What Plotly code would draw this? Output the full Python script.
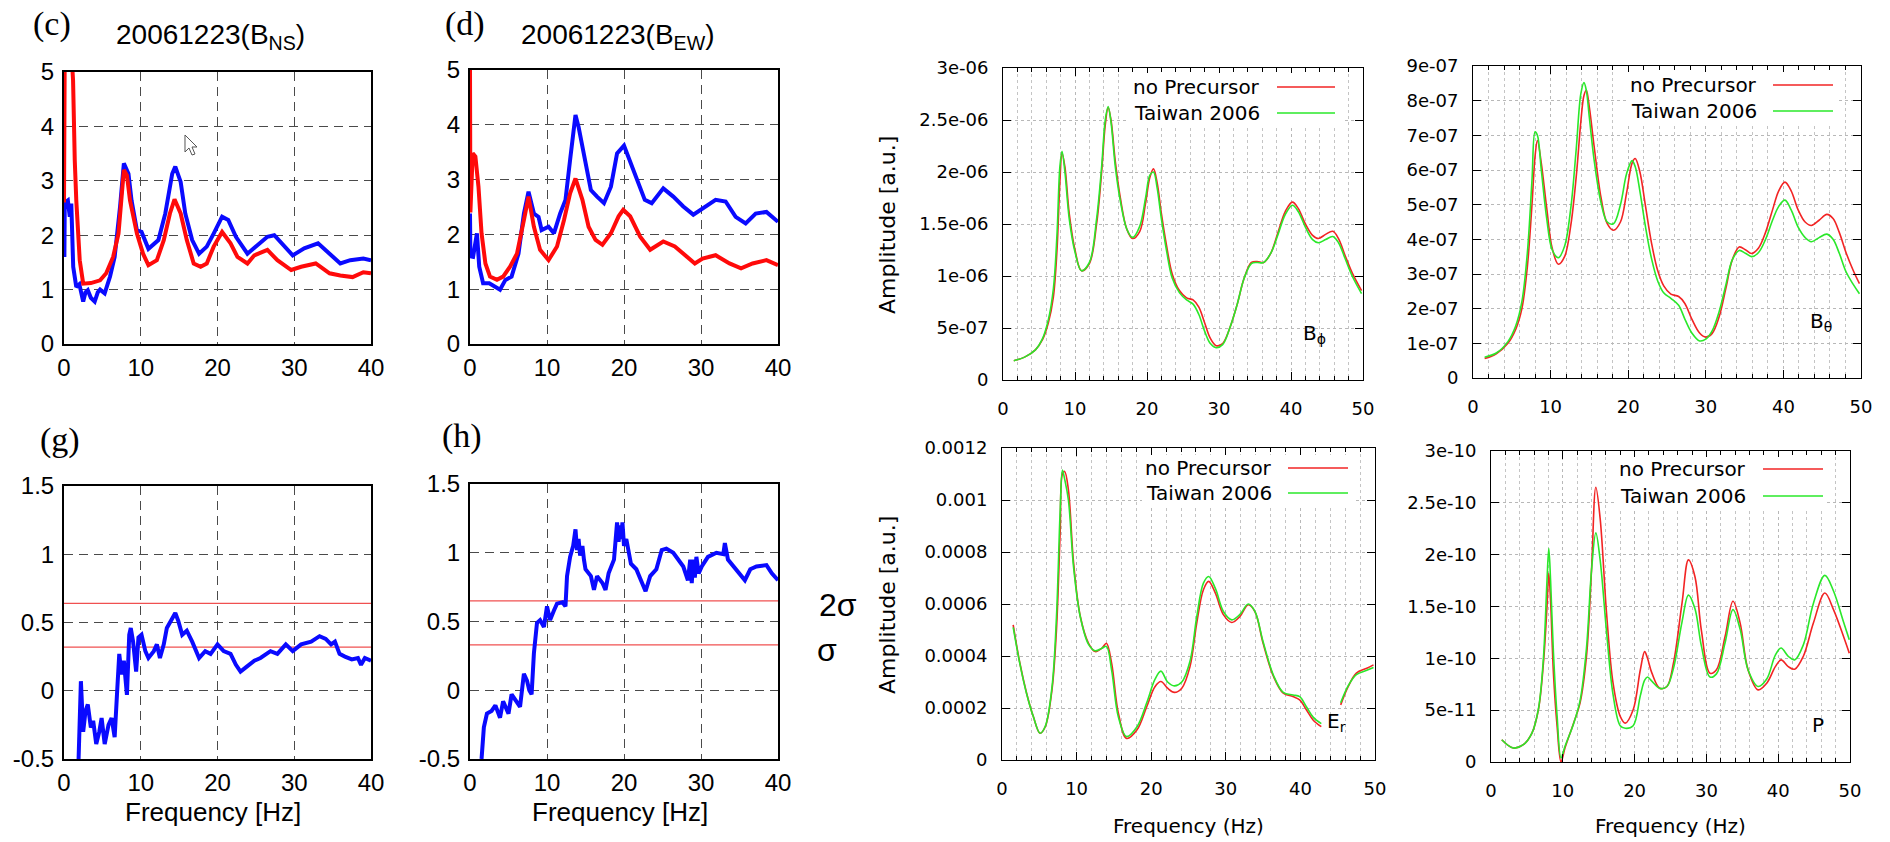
import plotly.graph_objects as go

W, H = 1890, 842

# ---------------- (c) 20061223 B_NS ----------------
c_red_f = [0, 0.1, 0.9, 1.18, 1.4, 1.6, 2.05, 2.5, 3.5, 4.7, 5.5, 6.4, 7.1, 7.5, 7.8, 8.2, 8.6, 9.5, 10.3, 11.0,
           12.1, 13.0, 13.8, 14.4, 15.2, 16.0, 16.9, 17.8, 18.6, 19.5, 20.6, 21.7, 22.6, 23.9, 24.8, 26.5, 27.8,
           29.6, 30.9, 32.8, 34.6, 36.0, 37.6, 39.0, 40.0]
c_red_v = [2.6, 5.5, 5.5, 4.85, 3.38, 2.64, 1.54, 1.11, 1.12, 1.17, 1.3, 1.6, 2.03, 2.8, 3.2, 3.1, 2.64, 2.03, 1.66,
           1.45, 1.54, 1.91, 2.4, 2.66, 2.4, 1.91, 1.48, 1.42, 1.48, 1.79, 2.06, 1.85, 1.6, 1.48, 1.63, 1.73, 1.54,
           1.36, 1.42, 1.48, 1.3, 1.26, 1.23, 1.32, 1.3]
c_blue_f = [0.05, 0.1, 0.5, 0.75, 0.95, 1.2, 1.6, 2.0, 2.5, 2.8, 3.1, 3.5, 4.0, 4.4, 4.7, 5.3, 6.0, 6.6, 7.3, 7.8,
            8.4, 8.8, 9.5, 10.1, 11.0, 12.3, 13.2, 14.1, 14.5, 15.2, 15.8, 16.7, 17.6, 18.6, 19.5, 20.6, 21.4,
            22.4, 23.9, 25.2, 26.5, 27.4, 28.7, 29.8, 31.3, 33.1, 34.6, 36.0, 37.3, 39.0, 40.0]
c_blue_v = [1.6, 2.6, 2.64, 2.34, 2.58, 1.42, 1.05, 1.1, 0.78, 0.95, 0.99, 0.85, 0.78, 0.95, 1.0, 0.93, 1.24, 1.6,
            2.52, 3.32, 3.13, 2.64, 2.09, 2.06, 1.75, 1.91, 2.4, 3.13, 3.26, 2.98, 2.4, 1.91, 1.66, 1.79, 2.03,
            2.34, 2.28, 1.97, 1.66, 1.82, 1.97, 2.0, 1.79, 1.63, 1.76, 1.85, 1.66, 1.48, 1.54, 1.57, 1.54]

# ---------------- (d) 20061223 B_EW ----------------
d_red_f = [0, 0.05, 0.35, 0.7, 1.1, 1.5, 2.0, 2.6, 3.5, 4.3, 5.2, 6.1, 7.0, 7.6, 8.3, 9.1, 10.2, 11.3, 12.2, 13.0,
           13.7, 14.6, 15.4, 16.3, 17.2, 18.3, 19.3, 19.9, 20.8, 22.1, 23.4, 25.1, 26.6, 28.1, 29.2, 30.2, 31.9,
           33.7, 35.2, 36.7, 38.5, 40.0]
d_red_v = [5.0, 2.4, 3.48, 3.42, 2.87, 2.02, 1.47, 1.23, 1.17, 1.23, 1.41, 1.65, 2.26, 2.69, 2.14, 1.72, 1.53,
           1.78, 2.26, 2.75, 3.02, 2.63, 2.14, 1.9, 1.81, 2.02, 2.33, 2.45, 2.33, 1.96, 1.72, 1.87, 1.78, 1.6,
           1.47, 1.56, 1.62, 1.47, 1.38, 1.47, 1.53, 1.44]
d_blue_f = [0, 0.05, 0.4, 0.9, 1.2, 1.7, 2.5, 3.3, 3.9, 4.6, 5.4, 6.3, 7.0, 7.6, 8.3, 8.9, 9.3, 10.2, 10.9, 11.7,
            12.4, 13.0, 13.7, 14.1, 14.8, 15.7, 16.5, 17.4, 18.3, 19.1, 20.0, 21.0, 22.1, 22.7, 23.6, 25.1, 26.4,
            27.7, 29.0, 30.2, 31.9, 33.2, 34.5, 35.8, 37.1, 38.5, 40.0]
d_blue_v = [2.38, 1.6, 1.59, 2.02, 1.41, 1.11, 1.11, 1.05, 0.99, 1.17, 1.23, 1.65, 2.38, 2.78, 2.38, 2.32, 2.08,
            2.14, 2.02, 2.38, 2.63, 3.36, 4.18, 3.96, 3.48, 2.81, 2.69, 2.57, 2.87, 3.48, 3.62, 3.24, 2.81, 2.63,
            2.57, 2.84, 2.69, 2.51, 2.36, 2.48, 2.63, 2.6, 2.32, 2.2, 2.38, 2.41, 2.23]

# ---------------- (g) / (h) normalised differences ----------------
g_f = [1.9, 2.2, 2.5, 2.8, 3.1, 3.5, 3.8, 4.2, 4.6, 4.9, 5.3, 5.8, 6.2, 6.6, 6.9, 7.2, 7.5, 7.8, 8.2, 8.5, 8.7,
       9.0, 9.4, 9.7, 10.1, 10.6, 11.0, 11.7, 12.1, 12.5, 13.0, 13.4, 14.1, 14.5, 14.9, 15.4, 16.0, 16.7, 17.6,
       18.4, 19.1, 20.0, 20.8, 21.7, 22.4, 23.0, 23.9, 24.8, 25.6, 26.9, 27.8, 28.9, 29.8, 30.9, 32.2, 33.3,
       34.1, 34.8, 35.3, 35.9, 36.6, 37.5, 38.3, 38.7, 39.2, 40.0]
g_v = [-0.5, 0.07, -0.3, -0.15, -0.1, -0.27, -0.22, -0.39, -0.3, -0.2, -0.39, -0.25, -0.2, -0.34, -0.03, 0.27,
       0.12, 0.22, -0.03, 0.41, 0.46, 0.36, 0.14, 0.39, 0.41, 0.29, 0.24, 0.29, 0.34, 0.24, 0.34, 0.46, 0.53,
       0.57, 0.51, 0.41, 0.44, 0.36, 0.24, 0.29, 0.27, 0.34, 0.29, 0.27, 0.19, 0.14, 0.18, 0.22, 0.24, 0.29,
       0.27, 0.34, 0.29, 0.34, 0.36, 0.4, 0.38, 0.34, 0.36, 0.27, 0.25, 0.23, 0.24, 0.19, 0.24, 0.22]
g_sigma = [0.32, 0.64]      # sigma, 2 sigma

h_f = [1.5, 1.8, 2.2, 2.8, 3.3, 3.9, 4.3, 5.0, 5.4, 6.1, 6.5, 7.0, 7.4, 7.7, 8.0, 8.3, 8.7, 9.1, 9.6, 10.0, 10.4,
       10.9, 11.3, 12.0, 12.4, 12.6, 13.0, 13.4, 13.7, 13.9, 14.1, 14.3, 14.6, 14.8, 15.0, 15.7, 16.1, 16.5, 17.2,
       17.6, 18.0, 18.7, 19.1, 19.3, 19.5, 19.6, 19.8, 20.0, 20.3, 20.9, 21.6, 22.2, 22.8, 23.4, 24.2, 24.9, 25.5,
       26.4, 27.0, 27.7, 28.3, 28.6, 28.8, 29.0, 29.2, 29.4, 29.7, 30.1, 30.9, 32.0, 32.9, 33.1, 33.5, 34.2, 35.0,
       35.7, 36.4, 37.2, 38.5, 39.2, 40.0]
h_v = [-0.5, -0.27, -0.17, -0.15, -0.11, -0.2, -0.08, -0.17, -0.03, -0.08, -0.12, 0.12, 0.07, 0.0, -0.03, 0.27,
       0.49, 0.51, 0.46, 0.61, 0.51, 0.58, 0.63, 0.64, 0.61, 0.83, 0.97, 1.05, 1.17, 1.02, 1.1, 0.98, 1.05, 0.95,
       0.88, 0.83, 0.73, 0.83, 0.78, 0.73, 0.85, 0.95, 1.22, 1.08, 1.2, 1.1, 1.22, 1.05, 1.1, 0.92, 0.88, 0.8,
       0.72, 0.83, 0.88, 1.02, 1.03, 1.0, 0.95, 0.9, 0.8, 0.95, 0.78, 0.95, 0.82, 0.97, 0.85, 0.9, 0.97, 1.0,
       0.99, 1.07, 0.95, 0.9, 0.85, 0.8, 0.88, 0.9, 0.91, 0.85, 0.8]
h_sigma = [0.33, 0.65]

# ---------------- model spectra: B_phi (units of 1e-6) ----------------
bphi_f = [1.5, 3.0, 4.5, 5.5, 6.3, 7.0, 7.5, 7.9, 8.2, 8.6, 9.2, 10.0, 10.9, 12.0, 13.0, 13.7, 14.2, 14.6, 15.0,
          15.6, 16.3, 17.2, 18.0, 19.0, 19.8, 20.4, 20.9, 21.4, 22.0, 22.7, 23.5, 24.5, 25.5, 26.4, 27.2, 28.0,
          28.8, 29.6, 30.5, 31.5, 32.5, 33.5, 34.5, 35.3, 36.2, 37.2, 38.2, 39.2, 40.2, 41.0, 42.0, 43.0, 43.8,
          44.8, 45.8, 46.6, 47.5, 48.5, 49.8]
bphi_noprec = [0.186, 0.22, 0.29, 0.39, 0.55, 0.8, 1.25, 1.9, 2.18, 2.05, 1.6, 1.25, 1.05, 1.12, 1.5, 2.0, 2.45,
               2.62, 2.5, 2.1, 1.75, 1.45, 1.36, 1.43, 1.7, 1.95, 2.03, 1.9, 1.6, 1.3, 1.02, 0.86, 0.79, 0.77,
               0.7, 0.55, 0.4, 0.33, 0.35, 0.5, 0.72, 0.98, 1.13, 1.14, 1.13, 1.22, 1.42, 1.62, 1.71, 1.65, 1.5,
               1.39, 1.36, 1.4, 1.43, 1.36, 1.2, 1.03, 0.86]
bphi_taiwan = [0.186, 0.22, 0.29, 0.4, 0.58, 0.88, 1.4, 2.05, 2.2, 2.0, 1.55, 1.23, 1.05, 1.13, 1.55, 2.05, 2.5,
               2.63, 2.48, 2.05, 1.72, 1.45, 1.37, 1.48, 1.75, 1.97, 2.0, 1.85, 1.55, 1.25, 0.98, 0.84, 0.77,
               0.73, 0.63, 0.47, 0.35, 0.31, 0.34, 0.5, 0.72, 0.98, 1.12, 1.13, 1.13, 1.22, 1.4, 1.59, 1.68, 1.62,
               1.47, 1.35, 1.32, 1.35, 1.38, 1.32, 1.17, 1.0, 0.83]

# ---------------- B_theta (units of 1e-7) ----------------
bth_f = [1.5, 3.0, 4.5, 5.5, 6.3, 7.0, 7.6, 8.0, 8.3, 8.8, 9.5, 10.2, 11.0, 11.8, 12.6, 13.3, 13.9, 14.3, 14.6,
         15.0, 15.6, 16.5, 17.3, 18.1, 19.0, 19.8, 20.5, 20.9, 21.5, 22.2, 23.0, 23.8, 24.6, 25.5, 26.5, 27.3,
         28.2, 29.2, 30.0, 30.8, 31.7, 32.6, 33.4, 34.3, 35.1, 35.9, 36.8, 37.7, 38.6, 39.4, 40.2, 41.0, 41.9,
         42.8, 43.6, 44.6, 45.6, 46.4, 47.2, 48.1, 49.0, 49.8]
bth_noprec = [0.56, 0.7, 1.0, 1.4, 2.0, 3.2, 5.0, 6.4, 6.85, 6.2, 4.9, 3.75, 3.28, 3.5, 4.4, 5.8, 7.4, 8.15, 8.3,
              7.8, 6.7, 5.2, 4.45, 4.26, 4.5, 5.35, 6.2, 6.33, 5.95, 5.0, 3.9, 3.1, 2.65, 2.42, 2.35, 2.15, 1.7,
              1.3, 1.18, 1.28, 1.75, 2.6, 3.4, 3.78, 3.7, 3.59, 3.75, 4.2, 4.85, 5.4, 5.65, 5.4, 4.85, 4.5, 4.4,
              4.55, 4.72, 4.6, 4.2, 3.6, 3.1, 2.72]
bth_taiwan = [0.6, 0.72, 1.05, 1.5, 2.2, 3.6, 5.7, 7.1, 7.0, 6.0, 4.6, 3.7, 3.47, 3.8, 4.9, 6.6, 8.2, 8.52, 8.3,
              7.5, 6.3, 5.05, 4.5, 4.45, 5.0, 5.9, 6.27, 6.1, 5.4, 4.4, 3.45, 2.8, 2.45, 2.3, 2.1, 1.7, 1.3, 1.07,
              1.12, 1.35, 1.9, 2.7, 3.4, 3.68, 3.6, 3.5, 3.62, 4.0, 4.55, 4.95, 5.13, 4.85, 4.35, 4.05, 3.93,
              4.05, 4.15, 4.0, 3.6, 3.05, 2.7, 2.43]

# ---------------- E_r (units of 1e-4); None marks the break under the label ----------------
er_f = [1.5, 2.4, 3.3, 4.2, 5.1, 5.8, 6.7, 7.3, 7.8, 8.1, 8.4, 8.9, 9.6, 10.5, 11.6, 12.5, 13.4, 14.0, 14.7, 15.6,
        16.7, 18.1, 19.4, 20.5, 21.3, 22.2, 23.1, 24.1, 25.2, 26.1, 27.0, 27.7, 28.6, 29.7, 30.8, 31.9, 33.0,
        33.9, 35.0, 36.4, 37.7, 39.0, 39.9, 40.8, 41.7, 42.8, None, 45.4, 46.4, 47.5, 48.9, 49.8]
er_noprec = [5.2, 3.72, 2.57, 1.67, 1.03, 1.28, 2.7, 5.0, 8.8, 11.0, 11.1, 10.4, 7.57, 5.52, 4.49, 4.17, 4.3, 4.49,
             3.72, 1.8, 0.83, 1.16, 2.05, 2.82, 3.02, 2.76, 2.6, 2.76, 3.59, 5.26, 6.55, 6.87, 6.42, 5.58, 5.29,
             5.52, 5.97, 5.71, 4.49, 3.21, 2.57, 2.44, 2.31, 1.93, 1.54, 1.28, None, 2.12, 2.82, 3.34, 3.53, 3.66]
er_taiwan = [5.1, 3.7, 2.55, 1.67, 1.03, 1.3, 2.8, 5.5, 9.6, 11.15, 10.8, 10.0, 7.4, 5.5, 4.45, 4.2, 4.3, 4.37,
             3.45, 1.65, 0.9, 1.28, 2.2, 3.1, 3.42, 3.0, 2.85, 3.0, 3.8, 5.5, 6.8, 7.06, 6.6, 5.7, 5.39, 5.6, 6.0,
             5.72, 4.55, 3.25, 2.6, 2.5, 2.44, 2.05, 1.65, 1.4, None, 2.2, 2.85, 3.28, 3.45, 3.56]

# ---------------- P (units of 1e-11) ----------------
p_f = [1.5, 3.1, 4.5, 5.7, 6.6, 7.3, 7.8, 8.05, 8.3, 8.7, 9.2, 9.75, 10.3, 11.5, 12.4, 13.3, 14.0, 14.6, 15.2, 16.1,
       17.0, 18.0, 18.7, 19.8, 20.8, 21.4, 21.8, 22.4, 23.5, 24.5, 25.4, 26.6, 27.5, 28.4, 29.3, 30.5, 31.4, 32.6,
       33.7, 34.7, 35.8, 37.2, 38.4, 39.6, 40.4, 41.4, 42.3, 43.5, 44.9, 46.5, 47.7, 49.1, 49.9]
p_noprec = [2.15, 1.35, 1.67, 2.79, 5.04, 9.5, 15.0, 18.2, 15.5, 8.5, 3.5, 0.0, 1.35, 3.75, 5.68, 10.2, 18.5, 26.5,
            23.5, 14.3, 7.6, 4.4, 3.75, 5.04, 8.9, 10.65, 10.0, 8.6, 7.12, 7.28, 9.5, 15.3, 19.5, 17.9, 12.7, 8.57,
            8.9, 12.1, 15.5, 13.4, 8.9, 6.96, 7.6, 9.2, 9.85, 9.2, 8.95, 10.2, 13.4, 16.3, 14.7, 12.1, 10.5]
p_taiwan = [2.15, 1.35, 1.67, 2.79, 5.1, 10.0, 17.5, 20.6, 17.5, 10.5, 4.5, 0.4, 1.5, 3.7, 5.9, 11.0, 18.5, 22.1,
            19.5, 12.5, 6.5, 3.5, 3.25, 3.5, 6.4, 7.9, 8.2, 7.8, 7.1, 7.28, 9.0, 13.5, 16.1, 14.8, 11.2, 8.2, 8.5,
            11.5, 14.7, 12.8, 8.9, 7.28, 8.0, 10.3, 11.0, 10.2, 9.85, 11.3, 15.3, 18.0, 16.5, 13.5, 11.8]

for a, b in [(c_red_f, c_red_v), (c_blue_f, c_blue_v), (d_red_f, d_red_v), (d_blue_f, d_blue_v), (g_f, g_v),
             (h_f, h_v), (bphi_f, bphi_noprec), (bphi_f, bphi_taiwan), (bth_f, bth_noprec), (bth_f, bth_taiwan),
             (er_f, er_noprec), (er_f, er_taiwan), (p_f, p_noprec), (p_f, p_taiwan)]:
    assert len(a) == len(b)

# tick labels
left_xticks = [0, 10, 20, 30, 40]
top_left_yticks = [0, 1, 2, 3, 4, 5]
bottom_left_yticks = [-0.5, 0, 0.5, 1, 1.5]
bottom_left_ytext = ["-0.5", "0", "0.5", "1", "1.5"]
right_xticks = [0, 10, 20, 30, 40, 50]
bphi_ytext = ["0", "5e-07", "1e-06", "1.5e-06", "2e-06", "2.5e-06", "3e-06"]
bth_ytext = ["0", "1e-07", "2e-07", "3e-07", "4e-07", "5e-07", "6e-07", "7e-07", "8e-07", "9e-07"]
er_ytext = ["0", "0.0002", "0.0004", "0.0006", "0.0008", "0.001", "0.0012"]
p_ytext = ["0", "5e-11", "1e-10", "1.5e-10", "2e-10", "2.5e-10", "3e-10"]
legend_names = ["no Precursor", "Taiwan 2006"]

LEFT_FONT = "Liberation Sans, Arial, sans-serif"
SERIF = "Liberation Serif, Times New Roman, serif"
RIGHT_FONT = "DejaVu Sans, sans-serif"
BLUE, RED = "#0a0aff", "#ff0a0a"
M_RED, M_GREEN = "#f22424", "#2ae82a"


def xd(a, b):
    return [a / W, b / W]


def yd(top, bottom):
    return [1 - bottom / H, 1 - top / H]


def px(x):
    return x / W


def py(y):
    return 1 - y / H


def scaled(vals, s):
    return [None if v is None else v * s for v in vals]


fig = go.Figure()


def line(xs, ys, ax, color, width, shape="linear"):
    fig.add_trace(go.Scatter(x=xs, y=ys, mode="lines", xaxis="x" + ax, yaxis="y" + ax,
                             line=dict(color=color, width=width, shape=shape), hoverinfo="skip"))


# left column panels (axes 1-4)
line(c_blue_f, c_blue_v, "", BLUE, 4)
line(c_red_f, c_red_v, "", RED, 4)
line(d_blue_f, d_blue_v, "2", BLUE, 4)
line(d_red_f, d_red_v, "2", RED, 4)
for s in g_sigma:
    line([0, 40], [s, s], "3", "#f05050", 1.3)
line(g_f, g_v, "3", BLUE, 4)
for s in h_sigma:
    line([0, 40], [s, s], "4", "#f05050", 1.3)
line(h_f, h_v, "4", BLUE, 4)

# model spectra (axes 5-8)
line(bphi_f, scaled(bphi_noprec, 1e-6), "5", M_RED, 1.6, "spline")
line(bphi_f, scaled(bphi_taiwan, 1e-6), "5", M_GREEN, 1.6, "spline")
line(bth_f, scaled(bth_noprec, 1e-7), "6", M_RED, 1.6, "spline")
line(bth_f, scaled(bth_taiwan, 1e-7), "6", M_GREEN, 1.6, "spline")
line(er_f, scaled(er_noprec, 1e-4), "7", M_RED, 1.6, "spline")
line(er_f, scaled(er_taiwan, 1e-4), "7", M_GREEN, 1.6, "spline")
line(p_f, scaled(p_noprec, 1e-11), "8", M_RED, 1.6, "spline")
line(p_f, scaled(p_taiwan, 1e-11), "8", M_GREEN, 1.6, "spline")


def left_axis(dom, rng, vals, text, anchor, is_x):
    d = dict(range=rng, tickvals=vals, ticktext=text, showline=True, linecolor="black", linewidth=2,
             mirror=True, ticks="", showgrid=True, gridcolor="#4a4a4a", gridwidth=1.3, griddash="9px,6px",
             zeroline=False, anchor=anchor, fixedrange=True, automargin=False,
             tickfont=dict(family=LEFT_FONT, size=24, color="black"))
    d["domain"] = dom
    d["ticklabelstandoff"] = 1 if is_x else 3
    return d


def right_axis(dom, rng, vals, text, anchor, is_x):
    d = dict(range=rng, tickvals=vals, ticktext=text, showline=True, linecolor="black", linewidth=1,
             mirror="ticks", ticks="inside", ticklen=8, tickcolor="black", tickwidth=1, showgrid=True,
             gridcolor="#b8b8b8", gridwidth=1, griddash="dot", zeroline=False, anchor=anchor, fixedrange=True,
             automargin=False, tickfont=dict(family=RIGHT_FONT, size=18, color="black"))
    d["domain"] = dom
    if is_x:
        d["minor"] = dict(dtick=2, tick0=0, ticks="inside", ticklen=4, tickcolor="black", showgrid=True,
                          gridcolor="#c4c4c4", griddash="dot", gridwidth=1)
        d["ticklabelstandoff"] = 12
    else:
        d["ticklabelstandoff"] = 10
    return d


lx = [str(v) for v in left_xticks]
ly = [str(v) for v in top_left_yticks]
rx = [str(v) for v in right_xticks]

layout = dict(width=W, height=H, margin=dict(l=0, r=0, t=0, b=0, pad=0, autoexpand=False), autosize=False,
              showlegend=False, paper_bgcolor="white", plot_bgcolor="white")

layout["xaxis"] = left_axis(xd(64, 371), [0, 40], left_xticks, lx, "y", True)
layout["yaxis"] = left_axis(yd(72, 344), [0, 5], top_left_yticks, ly, "x", False)
layout["xaxis2"] = left_axis(xd(470, 778), [0, 40], left_xticks, lx, "y2", True)
layout["yaxis2"] = left_axis(yd(70, 344), [0, 5], top_left_yticks, ly, "x2", False)
layout["xaxis3"] = left_axis(xd(64, 371), [0, 40], left_xticks, lx, "y3", True)
layout["yaxis3"] = left_axis(yd(486, 759), [-0.5, 1.5], bottom_left_yticks, bottom_left_ytext, "x3", False)
layout["xaxis4"] = left_axis(xd(470, 778), [0, 40], left_xticks, lx, "y4", True)
layout["yaxis4"] = left_axis(yd(484, 759), [-0.5, 1.5], bottom_left_yticks, bottom_left_ytext, "x4", False)

layout["xaxis5"] = right_axis(xd(1003, 1363), [0, 50], right_xticks, rx, "y5", True)
layout["yaxis5"] = right_axis(yd(68, 380), [0, 3e-6], [i * 5e-7 for i in range(7)], bphi_ytext, "x5", False)
layout["xaxis6"] = right_axis(xd(1473, 1861), [0, 50], right_xticks, rx, "y6", True)
layout["yaxis6"] = right_axis(yd(66, 378), [0, 9e-7], [i * 1e-7 for i in range(10)], bth_ytext, "x6", False)
layout["xaxis7"] = right_axis(xd(1002, 1375), [0, 50], right_xticks, rx, "y7", True)
layout["yaxis7"] = right_axis(yd(448, 760), [0, 1.2e-3], [i * 2e-4 for i in range(7)], er_ytext, "x7", False)
layout["xaxis8"] = right_axis(xd(1491, 1850), [0, 50], right_xticks, rx, "y8", True)
layout["yaxis8"] = right_axis(yd(451, 762), [0, 3e-10], [i * 5e-11 for i in range(7)], p_ytext, "x8", False)

annotations = []
shapes = []


def text(x, y, s, size, family=LEFT_FONT, xanchor="center", yanchor="middle", angle=0):
    annotations.append(dict(x=px(x), y=py(y), xref="paper", yref="paper", text=s, showarrow=False,
                            xanchor=xanchor, yanchor=yanchor, textangle=angle,
                            font=dict(family=family, size=size, color="black")))


# panel letters and titles
text(52, 24, "(c)", 34, SERIF)
text(465, 24, "(d)", 34, SERIF)
text(60, 440, "(g)", 34, SERIF)
text(462, 436, "(h)", 34, SERIF)
text(114, 36, "20061223(B<sub>NS</sub>)", 28, xanchor="left")
text(519, 36, "20061223(B<sub>EW</sub>)", 28, xanchor="left")
text(213, 812, "Frequency [Hz]", 26)
text(620, 812, "Frequency [Hz]", 26)
text(838, 605, "2σ", 32)
text(827, 650, "σ", 32)

# model panel texts
text(887, 225, "Amplitude [a.u.]", 22, RIGHT_FONT, angle=-90)
text(887, 605, "Amplitude [a.u.]", 22, RIGHT_FONT, angle=-90)
text(1188, 826, "Frequency (Hz)", 20, RIGHT_FONT)
text(1670, 826, "Frequency (Hz)", 20, RIGHT_FONT)
text(1301, 334, "B<sub>ϕ</sub>", 20, RIGHT_FONT, xanchor="left")
text(1808, 322, "B<sub>θ</sub>", 20, RIGHT_FONT, xanchor="left")
text(1325, 722, "E<sub>r</sub>", 20, RIGHT_FONT, xanchor="left")
text(1810, 725, "P", 20, RIGHT_FONT, xanchor="left")

# opaque keys of the model panels
keys = [  # box (x0, y0, x1, y1), text right edge, key line x0, x1, row y's
    ((1127, 73, 1342, 125), 1262, 1277, 1335, (87, 113)),
    ((1627, 72, 1838, 123), 1759, 1773, 1833, (85, 111)),
    ((1142, 455, 1353, 507), 1274, 1288, 1348, (468, 493)),
    ((1615, 457, 1827, 508), 1748, 1763, 1823, (469, 496)),
]
for (bx0, by0, bx1, by1), tx, lx0, lx1, rows in keys:
    shapes.append(dict(type="rect", xref="paper", yref="paper", x0=px(bx0), x1=px(bx1), y0=py(by1), y1=py(by0),
                       fillcolor="white", line=dict(width=0), layer="above"))
    for name, yy, col in zip(legend_names, rows, [M_RED, M_GREEN]):
        text(tx, yy, name, 20, RIGHT_FONT, xanchor="right")
        shapes.append(dict(type="line", xref="paper", yref="paper", x0=px(lx0), x1=px(lx1), y0=py(yy),
                           y1=py(yy), line=dict(color=col, width=1.6), layer="above"))

# mouse pointer left on panel (c)
pointer = [(185, 135), (185, 152), (189, 148), (192, 155), (195, 154), (192, 147), (197, 147)]
path = "M " + " L ".join(f"{px(x):.5f},{py(y):.5f}" for x, y in pointer) + " Z"
shapes.append(dict(type="path", xref="paper", yref="paper", path=path, fillcolor="white",
                   line=dict(color="#555555", width=1), layer="above"))

layout["annotations"] = annotations
layout["shapes"] = shapes
fig.update_layout(**layout)

fig.write_html("out.html")
